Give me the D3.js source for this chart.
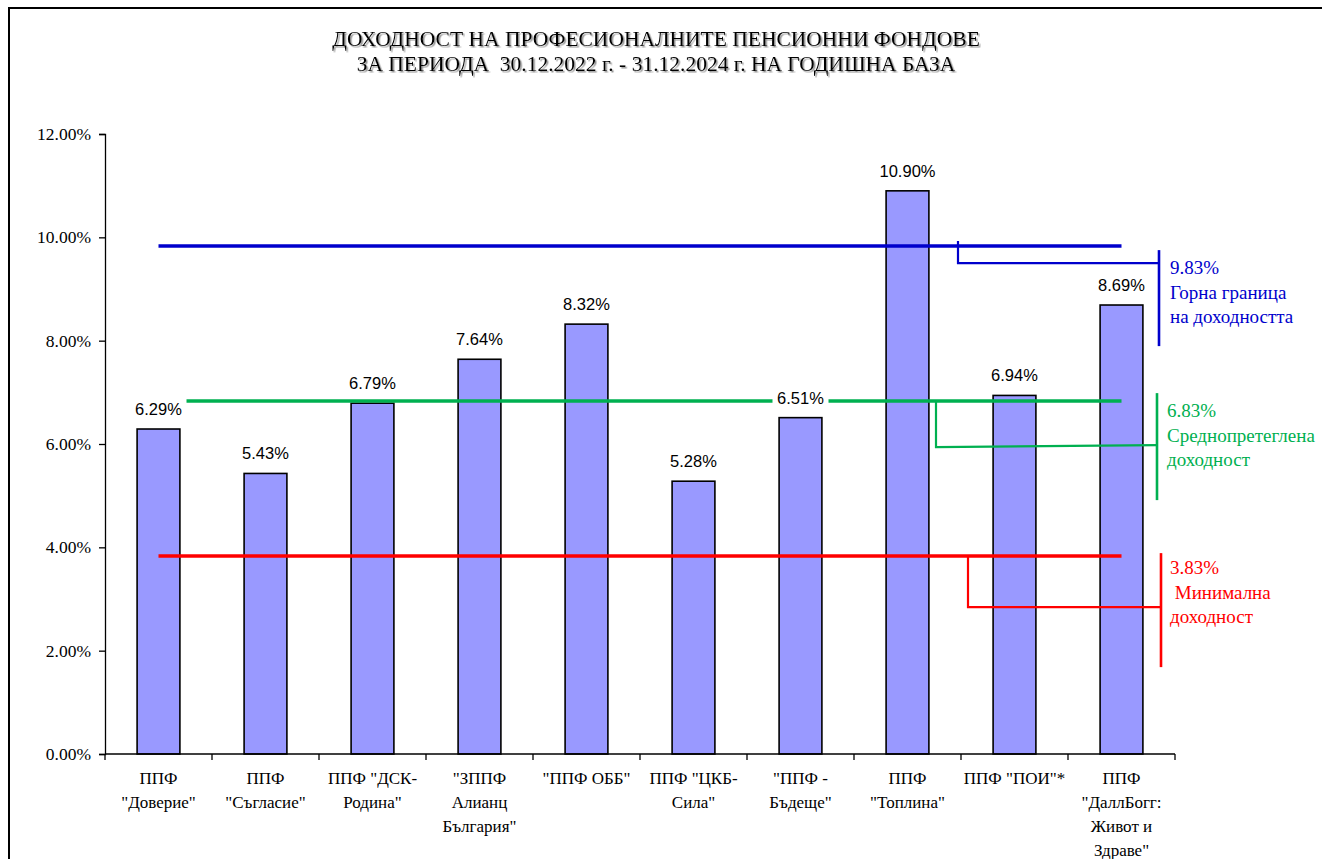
<!DOCTYPE html>
<html>
<head>
<meta charset="utf-8">
<script src="https://cdn.jsdelivr.net/npm/d3@7"></script>
<style>
  html, body { margin: 0; padding: 0; background: #fff; }
  svg { display: block; }
  .serif { font-family: "Liberation Serif", "Times New Roman", Times, "DejaVu Serif", serif; }
  .sans { font-family: "Liberation Sans", Arial, Helvetica, sans-serif; }
</style>
</head>
<body>
<svg id="chart" width="1322" height="859"></svg>
<script>
// categories: "|" marks a line break in the axis label
var categories = [
  'ППФ|"Доверие"', 'ППФ|"Съгласие"', 'ППФ "ДСК-|Родина"', '"ЗППФ|Алианц|България"',
  '"ППФ ОББ"', 'ППФ "ЦКБ-|Сила"', '"ППФ -|Бъдеще"', 'ППФ|"Топлина"',
  'ППФ "ПОИ"*', 'ППФ|"ДаллБогг:|Живот и|Здраве"'
];
var returns = [6.29, 5.43, 6.79, 7.64, 8.32, 5.28, 6.51, 10.90, 6.94, 8.69];
var yTicks = [0, 2, 4, 6, 8, 10, 12];
var titleLines = [
  'ДОХОДНОСТ НА ПРОФЕСИОНАЛНИТЕ ПЕНСИОННИ ФОНДОВЕ',
  'ЗА ПЕРИОДА  30.12.2022 г. - 31.12.2024 г. НА ГОДИШНА БАЗА'
];
var refValues = [9.83, 6.83, 3.83];
var refNames = [['Горна граница', 'на доходността'], ['Среднопретеглена', 'доходност'], [' Минимална', 'доходност']];
var refColors = ['#0000cc', '#00b050', '#ff0000'];

var svg = d3.select('#chart');

// outer frame (runs off the right and bottom)
svg.append('rect').attr('x', 9).attr('y', 8).attr('width', 1340).attr('height', 900)
  .attr('fill', 'none').attr('stroke', '#000').attr('stroke-width', 2);

var defs = svg.append('defs');
defs.append('filter').attr('id', 'shadow')
  .append('feDropShadow').attr('dx', 1.5).attr('dy', 1.5).attr('stdDeviation', 0.7)
  .attr('flood-color', '#777').attr('flood-opacity', 0.8);

svg.append('g').attr('filter', 'url(#shadow)')
  .selectAll('text').data(titleLines).enter().append('text')
  .attr('class', 'serif')
  .attr('x', 656).attr('y', function(d, i) { return 46 + i * 25; })
  .attr('text-anchor', 'middle').attr('font-size', 21.5)
  .attr('fill', '#000').style('white-space', 'pre')
  .text(function(d) { return d; });

var plotL = 105, plotR = 1175, plotT = 134, plotB = 754;

var x = d3.scaleBand().domain(d3.range(categories.length)).range([plotL, plotR])
  .paddingInner(0.6).paddingOuter(0.3);
var y = d3.scaleLinear().domain([0, 12]).range([plotB, plotT]);

// bars
svg.append('g').selectAll('rect').data(returns).enter().append('rect')
  .attr('x', function(d, i) { return x(i); })
  .attr('y', function(d) { return y(d); })
  .attr('width', x.bandwidth())
  .attr('height', function(d) { return y(0) - y(d); })
  .attr('fill', '#9999ff').attr('stroke', '#000').attr('stroke-width', 1.6);

// y axis
var yAxis = d3.axisLeft(y).tickValues(yTicks).tickSize(6).tickPadding(8)
  .tickFormat(function(d) { return d.toFixed(2) + '%'; });
var gy = svg.append('g').attr('transform', 'translate(' + plotL + ',0)').call(yAxis);
gy.attr('font-family', null);
gy.select('.domain').attr('stroke', '#000').attr('stroke-width', 1.3);
gy.selectAll('.tick line').attr('stroke', '#000').attr('stroke-width', 1.3);
gy.selectAll('.tick text').attr('class', 'serif').attr('font-size', 17.5).attr('fill', '#000');

// x axis: ticks at band boundaries
var gx = svg.append('g').attr('transform', 'translate(0,' + plotB + ')');
gx.append('line').attr('x1', plotL).attr('x2', plotR).attr('stroke', '#000').attr('stroke-width', 1.3);
var step = x.step();
gx.selectAll('line.tk').data(d3.range(categories.length + 1)).enter().append('line')
  .attr('class', 'tk')
  .attr('x1', function(d) { return plotL + d * step; })
  .attr('x2', function(d) { return plotL + d * step; })
  .attr('y1', 0).attr('y2', 6).attr('stroke', '#000').attr('stroke-width', 1.3);
var catText = gx.selectAll('text').data(categories).enter().append('text')
  .attr('class', 'serif')
  .attr('text-anchor', 'middle').attr('font-size', 17)
  .attr('fill', '#000')
  .attr('transform', function(d, i) { return 'translate(' + (x(i) + x.bandwidth() / 2) + ',30)'; });
catText.selectAll('tspan').data(function(d) { return d.split('|'); }).enter().append('tspan')
  .attr('x', 0).attr('y', function(d, j) { return j * 24; })
  .text(function(d) { return d; });

// reference lines, from first to last bar centre
var cx0 = x(0) + x.bandwidth() / 2, cx1 = x(categories.length - 1) + x.bandwidth() / 2;
svg.append('g').selectAll('line').data(refValues).enter().append('line')
  .attr('x1', cx0).attr('x2', cx1)
  .attr('y1', function(d) { return y(d); }).attr('y2', function(d) { return y(d); })
  .attr('stroke', function(d, i) { return refColors[i]; }).attr('stroke-width', 3.5);

// data labels with white boxes (they sit over the lines)
var labels = svg.append('g').selectAll('g').data(returns).enter().append('g')
  .attr('transform', function(d, i) { return 'translate(' + (x(i) + x.bandwidth() / 2) + ',' + (y(d) - 14) + ')'; });
labels.append('rect').attr('x', -28).attr('y', -17).attr('width', 56).attr('height', 23).attr('fill', '#fff');
labels.append('text').attr('class', 'sans').attr('text-anchor', 'middle').attr('font-size', 16.5)
  .attr('fill', '#000').text(function(d) { return d.toFixed(2) + '%'; });

// callouts: elbow x, drop below line, bracket x, bracket top/bottom offsets, text x, first baseline offset
var callouts = [
  { ex: 958, up: -5, drop: 17, dropR: 17, bx: 1159, bt: 4, bb: 100, tx: 1170, ty: 28 },
  { ex: 936, up: 0, drop: 46, dropR: 44, bx: 1157, bt: -8, bb: 99, tx: 1167, ty: 16 },
  { ex: 968, up: 0, drop: 51, dropR: 51, bx: 1161, bt: -3, bb: 111, tx: 1170, ty: 18 }
];
var cg = svg.append('g').selectAll('g').data(refValues).enter().append('g');
cg.append('path')
  .attr('d', function(d, i) {
    var c = callouts[i], v = y(d);
    return 'M' + c.ex + ',' + (v + c.up) + 'L' + c.ex + ',' + (v + c.drop) + 'L' + c.bx + ',' + (v + c.dropR);
  })
  .attr('fill', 'none').attr('stroke', function(d, i) { return refColors[i]; }).attr('stroke-width', 2.2);
cg.append('line')
  .attr('x1', function(d, i) { return callouts[i].bx; }).attr('x2', function(d, i) { return callouts[i].bx; })
  .attr('y1', function(d, i) { return y(d) + callouts[i].bt; })
  .attr('y2', function(d, i) { return y(d) + callouts[i].bb; })
  .attr('stroke', function(d, i) { return refColors[i]; }).attr('stroke-width', 2.6);
var ct = cg.append('text').attr('class', 'serif').attr('font-size', 19)
  .attr('fill', function(d, i) { return refColors[i]; }).style('white-space', 'pre');
ct.selectAll('tspan').data(function(d, i) {
    var c = callouts[i];
    return [d.toFixed(2) + '%'].concat(refNames[i]).map(function(t) { return { t: t, c: c, v: d }; });
  }).enter().append('tspan')
  .attr('x', function(d) { return d.c.tx; })
  .attr('y', function(d, j) { return y(d.v) + d.c.ty + j * 24.5; })
  .text(function(d) { return d.t; });
</script>
</body>
</html>
